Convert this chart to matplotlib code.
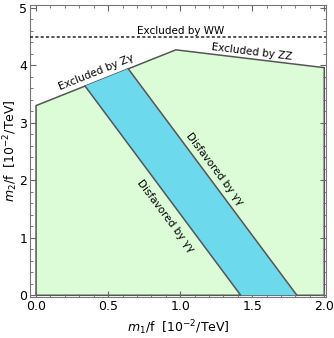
import numpy as np
import matplotlib.pyplot as plt

# allowed region boundary (m1/f, m2/f) in 10^-2/TeV
region_x = [0.0, 0.0, 0.97, 2.0, 2.0]
region_y = [0.0, 3.30, 4.27, 3.96, 0.0]

# gamma-gamma favoured band
band_x = [0.34, 0.64, 1.81, 1.42]
band_y = [3.64, 3.94, 0.0, 0.0]

ww_limit = 4.5

green = '#dcfcd8'
blue = '#6dd9ec'
edge = '#555555'


def main():
    fig = plt.figure(figsize=(3.34, 3.38), dpi=100)
    ax = fig.add_axes([30 / 334, 1 - 297 / 338, 296 / 334, 292 / 338])

    ax.fill(region_x, region_y, facecolor=green, edgecolor=edge, linewidth=1.1, zorder=1)
    ax.fill(band_x, band_y, facecolor=blue, edgecolor='none', zorder=2)
    ax.plot(band_x[:1] + band_x[3:], band_y[:1] + band_y[3:], color=edge, lw=1.1, zorder=3)
    ax.plot(band_x[1:3], band_y[1:3], color=edge, lw=1.1, zorder=3)
    ax.axhline(ww_limit, color='#222222', lw=1.1, ls=(0, (2, 1.5)), zorder=3)

    fs = 7.5
    ax.text(1.0, 4.6, 'Excluded by WW', ha='center', va='center', fontsize=fs)
    ax.text(1.5, 4.24, 'Excluded by ZZ', ha='center', va='center', fontsize=fs, rotation=-7)
    ax.text(0.42, 3.87, 'Excluded by Z\u03b3', ha='center', va='center', fontsize=fs, rotation=22)
    ax.text(1.24, 2.2, 'Disfavored by \u03b3\u03b3', ha='center', va='center', fontsize=fs, rotation=-53)
    ax.text(0.9, 1.38, 'Disfavored by \u03b3\u03b3', ha='center', va='center', fontsize=fs, rotation=-53)

    ax.set_xlim(-0.042, 2.012)
    ax.set_ylim(-0.03, 5.05)
    ax.set_xticks(np.arange(0, 2.01, 0.5))
    ax.set_xticklabels(['0.0', '0.5', '1.0', '1.5', '2.0'])
    ax.set_xticks(np.arange(0, 2.01, 0.1), minor=True)
    ax.set_yticks(range(6))
    ax.set_yticks(np.arange(0, 5.01, 0.2), minor=True)
    ax.tick_params(which='both', direction='in', top=True, right=True, colors='#666666',
                   labelcolor='black', labelsize=9, pad=2)
    ax.tick_params(which='major', length=4)
    ax.tick_params(which='minor', length=2)
    for s in ax.spines.values():
        s.set_color('#777777')

    ax.set_xlabel(r'$m_1$/f  [10$^{-2}$/TeV]', fontsize=9, labelpad=4)
    ax.set_ylabel(r'$m_2$/f  [10$^{-2}$/TeV]', fontsize=9)
    ax.yaxis.set_label_coords(-0.034, 0.5)

    fig.savefig('out.png', dpi=100)


if __name__ == '__main__':
    main()
